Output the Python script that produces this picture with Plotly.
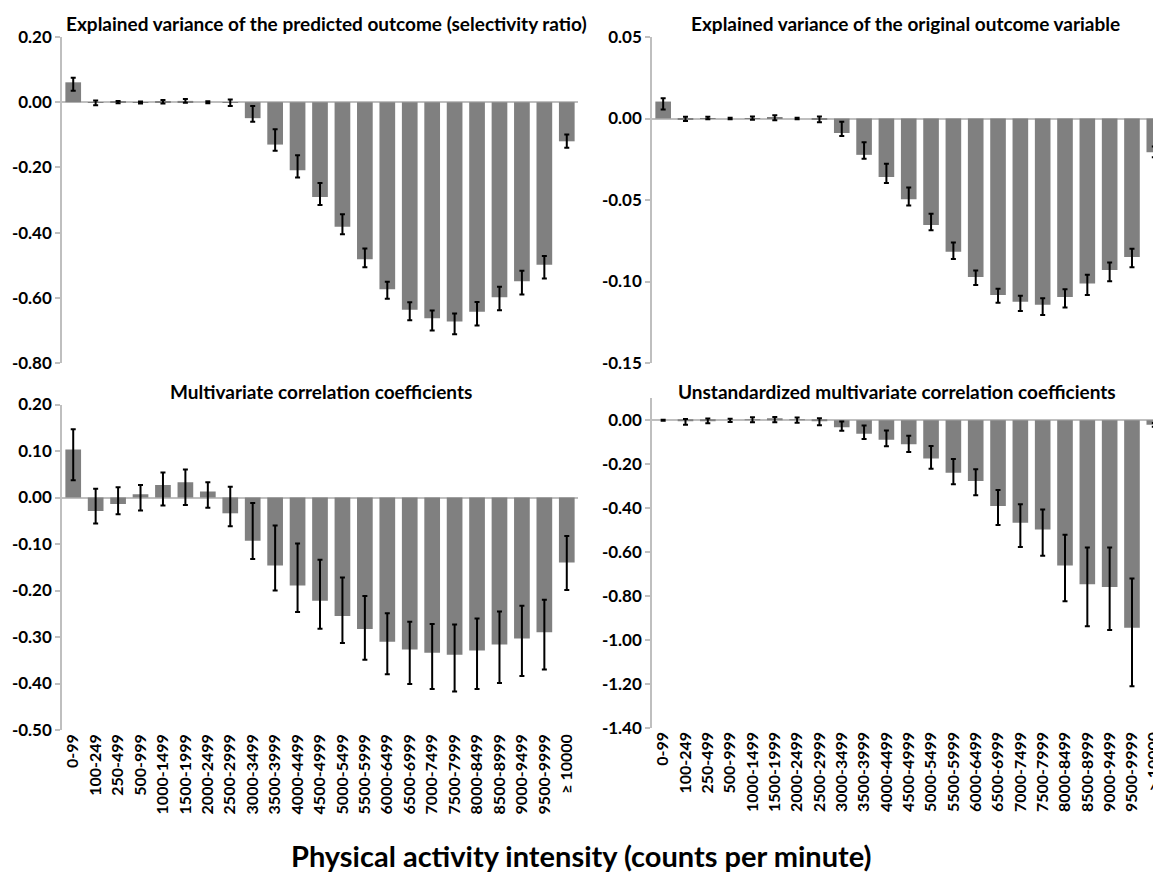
import plotly.graph_objects as go

cats_left = ["0-99", "100-249", "250-499", "500-999", "1000-1499", "1500-1999", "2000-2499",
             "2500-2999", "3000-3499", "3500-3999", "4000-4499", "4500-4999", "5000-5499",
             "5500-5999", "6000-6499", "6500-6999", "7000-7499", "7500-7999", "8000-8499",
             "8500-8999", "9000-9499", "9500-9999", "≥ 10000"]
cats_right = cats_left[:-1] + ["> 10000"]

# Panel 1: Explained variance of the predicted outcome (selectivity ratio)
vals1 = [0.061, -0.002, 0.001, -0.001, 0.002, 0.004, 0.000, -0.002, -0.049, -0.130, -0.209, -0.291,
         -0.382, -0.482, -0.574, -0.637, -0.663, -0.673, -0.643, -0.598, -0.549, -0.499, -0.120]
hi1 = [0.075, 0.005, 0.004, 0.002, 0.007, 0.010, 0.003, 0.008, -0.012, -0.083, -0.163, -0.248,
       -0.344, -0.449, -0.551, -0.614, -0.639, -0.648, -0.613, -0.566, -0.517, -0.472, -0.099]
lo1 = [0.035, -0.009, -0.003, -0.004, -0.004, -0.002, -0.003, -0.012, -0.060, -0.149, -0.231, -0.315,
       -0.405, -0.506, -0.603, -0.669, -0.700, -0.712, -0.685, -0.638, -0.590, -0.541, -0.140]

# Panel 2: Explained variance of the original outcome variable
vals2 = [0.0104, -0.0005, 0.0003, 0.0000, 0.0002, 0.0005, 0.0000, -0.0005, -0.0089, -0.0223, -0.0359,
         -0.0495, -0.0653, -0.0817, -0.0972, -0.1083, -0.1124, -0.1142, -0.1095, -0.1012, -0.0929,
         -0.0850, -0.0207]
hi2 = [0.0124, 0.0010, 0.0010, 0.0005, 0.0012, 0.0020, 0.0005, 0.0013, -0.0020, -0.0146, -0.0278,
       -0.0424, -0.0584, -0.0761, -0.0933, -0.1045, -0.1087, -0.1103, -0.1047, -0.0959, -0.0884,
       -0.0799, -0.0172]
lo2 = [0.0055, -0.0016, -0.0005, -0.0005, -0.0008, -0.0010, -0.0005, -0.0023, -0.0108, -0.0247, -0.0396,
       -0.0533, -0.0686, -0.0862, -0.1022, -0.1130, -0.1181, -0.1205, -0.1160, -0.1083, -0.0998,
       -0.0913, -0.0237]

# Panel 3: Multivariate correlation coefficients
vals3 = [0.103, -0.029, -0.014, 0.007, 0.027, 0.033, 0.013, -0.034, -0.093, -0.146, -0.189, -0.222,
         -0.255, -0.283, -0.310, -0.327, -0.334, -0.338, -0.329, -0.316, -0.303, -0.290, -0.140]
hi3 = [0.147, 0.019, 0.022, 0.027, 0.054, 0.060, 0.033, 0.023, -0.012, -0.060, -0.099, -0.134,
       -0.172, -0.212, -0.249, -0.267, -0.272, -0.273, -0.260, -0.245, -0.233, -0.220, -0.083]
lo3 = [0.037, -0.056, -0.036, -0.028, -0.017, -0.016, -0.022, -0.062, -0.132, -0.200, -0.246, -0.282,
       -0.313, -0.349, -0.380, -0.401, -0.412, -0.417, -0.412, -0.399, -0.384, -0.370, -0.199]

# Panel 4: Unstandardized multivariate correlation coefficients
vals4 = [0.000, -0.004, -0.002, 0.000, 0.004, 0.005, 0.001, -0.004, -0.032, -0.061, -0.089, -0.109,
         -0.174, -0.239, -0.277, -0.391, -0.467, -0.498, -0.661, -0.747, -0.759, -0.945, -0.021]
hi4 = [0.002, 0.006, 0.008, 0.007, 0.014, 0.015, 0.012, 0.009, -0.006, -0.024, -0.047, -0.070,
       -0.117, -0.176, -0.223, -0.318, -0.382, -0.406, -0.521, -0.579, -0.579, -0.721, -0.012]
lo4 = [-0.002, -0.021, -0.014, -0.008, -0.009, -0.009, -0.011, -0.023, -0.048, -0.085, -0.118, -0.144,
       -0.221, -0.291, -0.341, -0.477, -0.577, -0.617, -0.824, -0.938, -0.955, -1.211, -0.030]

titles = ["Explained variance of the predicted outcome (selectivity ratio)",
          "Explained variance of the original outcome variable",
          "Multivariate correlation coefficients",
          "Unstandardized multivariate correlation coefficients"]
xlabel = "Physical activity intensity (counts per minute)"

yticks1 = [0.2, 0.0, -0.2, -0.4, -0.6, -0.8]
yticks2 = [0.05, 0.0, -0.05, -0.10, -0.15]
yticks3 = [0.2, 0.1, 0.0, -0.1, -0.2, -0.3, -0.4, -0.5]
yticks4 = [0.0, -0.2, -0.4, -0.6, -0.8, -1.0, -1.2, -1.4]

# page is 1161x872; the html body adds an 8px offset, so the figure is drawn
# 8px in from the top-left and sized to end at the page edge
PAGE_W, PAGE_H = 1161, 872
OFF = 8
W, H = PAGE_W - OFF, PAGE_H - OFF
FONT = "Lato"
BAR = "#808080"
AX = "#bfbfbf"

fig = go.Figure()

panels = [
    (cats_left, vals1, hi1, lo1, "x", "y"),
    (cats_right, vals2, hi2, lo2, "x2", "y2"),
    (cats_left, vals3, hi3, lo3, "x3", "y3"),
    (cats_right, vals4, hi4, lo4, "x4", "y4"),
]
for cats, v, hi, lo, xa, ya in panels:
    fig.add_trace(go.Bar(
        x=cats, y=v, xaxis=xa, yaxis=ya,
        marker=dict(color=BAR, line=dict(width=0)),
        error_y=dict(type="data", symmetric=False,
                     array=[h - a for h, a in zip(hi, v)],
                     arrayminus=[a - l for a, l in zip(v, lo)],
                     color="black", thickness=2, width=2.5),
        showlegend=False, hoverinfo="skip",
    ))


def fx(x):
    return (x - OFF) / W


def fy(y):
    return (H - (y - OFF)) / H


def px_x(a, b):
    return [fx(a), min(fx(b), 1.0)]


def px_y(top, bottom):
    return [fy(bottom), fy(top)]


def yaxis(dom, rng, ticks, anchor):
    return dict(domain=dom, range=rng, tickmode="array", tickvals=ticks,
                ticktext=[f"{t:.2f}" for t in ticks], showgrid=False,
                zeroline=True, zerolinecolor=AX, zerolinewidth=1.5,
                showline=True, linecolor=AX, linewidth=1.5,
                ticks="outside", ticklen=5, tickcolor=AX, tickwidth=1.5,
                tickfont=dict(family=FONT, size=17, color="black", weight="bold"),
                anchor=anchor, automargin=False)


def xaxis(dom, rng, showlabels, anchor):
    return dict(domain=dom, range=rng, type="category", showgrid=False, zeroline=False,
                showline=False, ticks="", showticklabels=showlabels, tickangle=-90,
                tickfont=dict(family=FONT, size=16, color="black", weight="bold"),
                anchor=anchor, automargin=False)


left_x = px_x(62, 578)
right_x = px_x(652, 1161)
top_y = px_y(37, 363)
bl_y = px_y(404.5, 730)
br_y = px_y(398.3, 727.7)

fig.update_layout(
    width=W, height=H,
    margin=dict(l=0, r=0, t=0, b=0, autoexpand=False),
    paper_bgcolor="white", plot_bgcolor="white",
    bargap=0.3,
    xaxis=xaxis(left_x, [-0.5, 22.5], False, "y"),
    yaxis=yaxis(top_y, [-0.8, 0.2], yticks1, "x"),
    xaxis2=xaxis(right_x, [-0.5, 22.3], False, "y2"),
    yaxis2=yaxis(top_y, [-0.15, 0.05], yticks2, "x2"),
    xaxis3=xaxis(left_x, [-0.5, 22.5], True, "y3"),
    yaxis3=yaxis(bl_y, [-0.5, 0.2], yticks3, "x3"),
    xaxis4=xaxis(right_x, [-0.5, 22.3], True, "y4"),
    yaxis4=yaxis(br_y, [-1.4, 0.1], yticks4, "x4"),
)

title_pos = [(326, 24), (905, 24), (321, 391), (897, 391)]
for t, (cx, cy) in zip(titles, title_pos):
    fig.add_annotation(text=t, x=fx(cx), y=fy(cy), xref="paper", yref="paper",
                       xanchor="center", yanchor="middle", showarrow=False,
                       font=dict(family=FONT, size=19, color="black", weight="bold"))

fig.add_annotation(text=xlabel, x=fx(581), y=fy(855), xref="paper", yref="paper",
                   xanchor="center", yanchor="middle", showarrow=False,
                   font=dict(family=FONT, size=29, color="black", weight="bold"))

fig.write_html("out.html")
